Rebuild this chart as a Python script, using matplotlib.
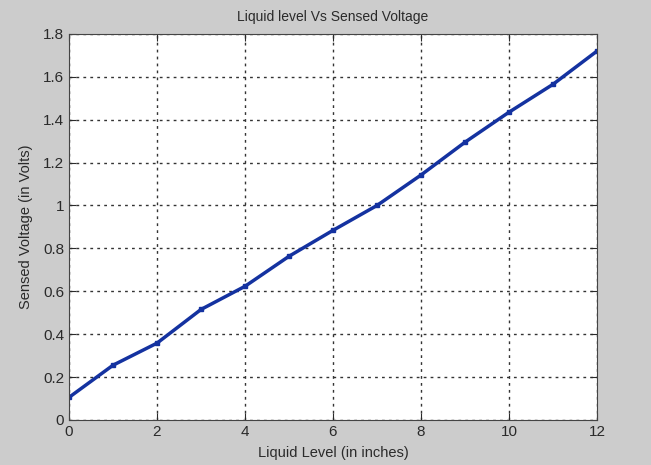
import matplotlib
matplotlib.use("Agg")
import matplotlib.pyplot as plt

# ---- Data ----
level = [0, 1, 2, 3, 4, 5, 6, 7, 8, 9, 10, 11, 12]
voltage = [0.105, 0.255, 0.358, 0.515, 0.623, 0.763, 0.884, 1.0, 1.142, 1.295, 1.435, 1.565, 1.72]
xticks = [0, 2, 4, 6, 8, 10, 12]
yticks = [0, 0.2, 0.4, 0.6, 0.8, 1, 1.2, 1.4, 1.6, 1.8]
ytick_labels = ["0", "0.2", "0.4", "0.6", "0.8", "1", "1.2", "1.4", "1.6", "1.8"]

plt.rcParams['font.family'] = ['Liberation Sans', 'DejaVu Sans']

fig = plt.figure(figsize=(6.51, 4.65), dpi=100, facecolor="#cccccc")
ax = fig.add_axes([0.106, 0.097, 0.811, 0.830])
ax.plot(level, voltage, color="#1432a0", linewidth=2.5, marker="s", markersize=3)

ax.set_xlim(0, 12)
ax.set_ylim(0, 1.8)
ax.set_xticks(xticks)
ax.set_yticks(yticks)
ax.set_yticklabels(ytick_labels)
ax.tick_params(direction="in", labelsize=11, length=5, colors="#2a2a2a",
               top=True, right=True)
ax.grid(True, color="#333333", linestyle=(0, (2, 3)), linewidth=1)
for s in ax.spines.values():
    s.set_color("#444444")

ax.set_title("Liquid level Vs Sensed Voltage", fontsize=10, color="#2a2a2a", pad=9)
ax.set_xlabel("Liquid Level (in inches)", fontsize=10.5, color="#2a2a2a", labelpad=5)
ax.set_ylabel("Sensed Voltage (in Volts)", fontsize=10.5, color="#2a2a2a", labelpad=7)

fig.savefig("out.png", dpi=100, facecolor=fig.get_facecolor())
